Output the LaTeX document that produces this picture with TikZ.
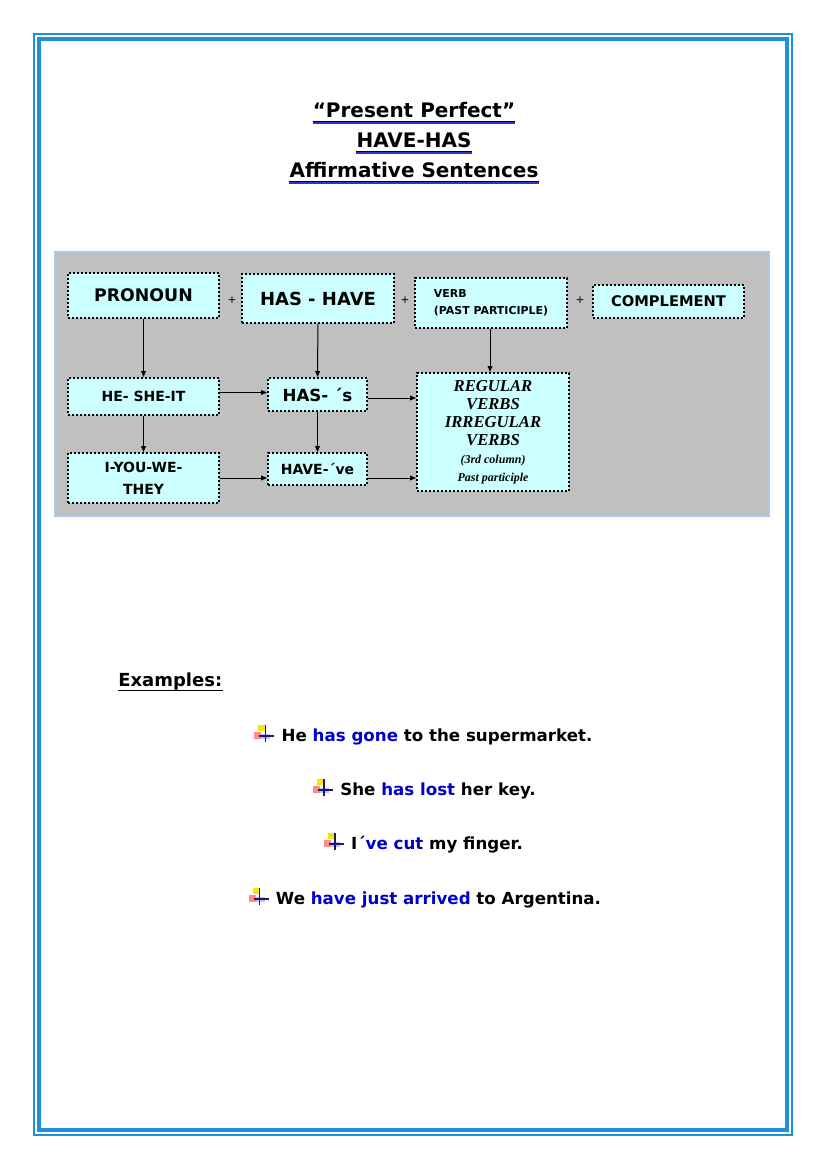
\documentclass[tikz,border=0pt]{standalone}
\usepackage{fontspec}
\setmainfont{DejaVu Sans}
\newfontfamily\curlyfont{Liberation Serif}
\usetikzlibrary{arrows.meta,positioning}
\definecolor{ink}{HTML}{000000}
\definecolor{frame}{HTML}{1E8FE0}
\definecolor{panel}{HTML}{C0C0C0}
\definecolor{panelline}{HTML}{A6CAF0}
\definecolor{cellfill}{HTML}{CCFFFF}
\definecolor{verbblue}{HTML}{0000CC}
\definecolor{shade}{HTML}{3333CC}
\definecolor{navy}{HTML}{1A1A66}
\newlength{\unitpx}\setlength{\unitpx}{0.75pt}
\newcommand{\sized}[2]{\fontsize{#1}{#2}\selectfont}
\newcommand{\vb}[1]{\textcolor{verbblue}{#1}}
\tikzset{
  >={Triangle[length=4.5pt,width=3.6pt]},
  every node/.style={text=ink},
  cell/.style={draw=ink,fill=cellfill,line width=1.5pt,dash pattern=on 1.5pt off 1.5pt,align=center,inner sep=0pt,font=\bfseries},
  bigcell/.style={cell,font=\bfseries\sized{13.5}{16}},
  smallcell/.style={cell,font=\bfseries\sized{10.5}{16.5}},
  plus/.style={font=\sized{8}{10},inner sep=0pt},
  arrow/.style={->,line width=0.75pt,draw=ink},
  heading/.style={font=\bfseries\sized{15}{18},anchor=base,inner sep=0pt},
  sentence/.style={font=\bfseries\sized{12.5}{15},anchor=base,inner sep=0pt},
  ruleblack/.style={draw=ink,line width=1.1pt},
  ruleblue/.style={draw=shade,line width=1.5pt},
  marker/.pic={
    \fill[yellow!85!orange] (-7,-9) rectangle (0,-3);
    \fill[red!45] (-11,-2) rectangle (-4,5);
    \fill[blue!25] (-4,0) rectangle (5,5);
    \draw[navy,line width=1.2pt] (0,-9) -- (0,8) (-6,2) -- (9,2);
  },
}

\begin{document}
\begin{tikzpicture}[x=\unitpx,y=-\unitpx]
\useasboundingbox (0,0) rectangle (821,1169);
\fill[white] (0,0) rectangle (821,1169);

% page frame
\draw[frame,line width=2.5\unitpx] (34,34) rectangle (792,1135);
\draw[frame,line width=3.5\unitpx] (39,39) rectangle (787,1130);

% title
\node[heading] (title1) at (414,118) {“Present Perfect”};
\node[heading] (title2) at (414,148) {HAVE-HAS};
\node[heading] (title3) at (414,178) {Affirmative Sentences};
\foreach \t in {title1,title2,title3}{
  \draw[ruleblue] ([yshift=-5.5\unitpx]\t.base west) -- ([yshift=-5.5\unitpx]\t.base east);
  \draw[ruleblack] ([yshift=-3.5\unitpx]\t.base west) -- ([yshift=-3.5\unitpx]\t.base east);
}

% grey panel
\draw[panelline,fill=panel,line width=2\unitpx] (55,252) rectangle (769,516);

% top row
\node[bigcell,font=\bfseries\sized{13}{16},minimum width=151\unitpx,minimum height=45\unitpx] (pron) at (143.5,295.5) {PRONOUN};
\node[bigcell,minimum width=152\unitpx,minimum height=49\unitpx] (hashave) at (318,298.5) {HAS - HAVE};
\node[cell,font=\bfseries\sized{8.2}{12.75},align=left,minimum width=152\unitpx,minimum height=50\unitpx] (verb) at (491,303) {VERB\\(PAST PARTICIPLE)};
\node[cell,font=\bfseries\sized{11}{14},minimum width=151\unitpx,minimum height=33\unitpx] (comp) at (668.5,301.5) {COMPLEMENT};
\node[plus] (plus1) at (232,300) {+};
\node[plus] (plus2) at (405,300) {+};
\node[plus] (plus3) at (580,300) {+};

% lower rows
\node[smallcell,minimum width=151\unitpx,minimum height=37\unitpx] (he) at (143.5,396.5) {HE- SHE-IT};
\node[smallcell,minimum width=151\unitpx,minimum height=50\unitpx] (iyou) at (143.5,478) {I-YOU-WE-\\THEY};
\node[cell,font=\bfseries\sized{12.5}{15},minimum width=99\unitpx,minimum height=33\unitpx] (has) at (317.5,394.5) {HAS- ´s};
\node[smallcell,minimum width=99\unitpx,minimum height=32\unitpx] (have) at (317.5,469) {HAVE-´ve};
\node[cell,font=\curlyfont\bfseries\itshape\sized{12.5}{13.5},minimum width=152\unitpx,minimum height=118\unitpx] (reg) at (493,432)
{REGULAR\\VERBS\\IRREGULAR\\VERBS\\{\sized{9}{14}(3rd column)}\\{\sized{9}{14}Past participle}};

% connectors
\draw[arrow] (pron) -- (he);
\draw[arrow] (hashave) -- (has);
\draw[arrow] ([xshift=-1\unitpx]verb.south) -- ([xshift=-1\unitpx]verb.south |- reg.north);
\draw[arrow] (he) -- (iyou);
\draw[arrow] (has) -- (have);
\draw[arrow] ([yshift=4\unitpx]he.east) -- ([yshift=4\unitpx]he.east -| has.west);
\draw[arrow] (iyou.east) -- (iyou.east -| have.west);
\draw[arrow] ([yshift=-3.5\unitpx]has.east) -- ([yshift=-3.5\unitpx]has.east -| reg.west);
\draw[arrow] ([yshift=-9\unitpx]have.east) -- ([yshift=-9\unitpx]have.east -| reg.west);

% examples
\node[font=\bfseries\sized{13.5}{16},anchor=base west,inner sep=0pt] (exhead) at (118,686) {Examples:};
\draw[draw=ink,line width=1.3pt] ([yshift=-4.5\unitpx]exhead.base west) -- ([yshift=-4.5\unitpx]exhead.base east);
\node[sentence] (ex1) at (437,741) {He \vb{has gone} to the supermarket.};
\node[sentence] (ex2) at (438,795) {She \vb{has lost} her key.};
\node[sentence] (ex3) at (437,849) {I´\vb{ve cut} my finger.};
\node[sentence] (ex4) at (438.5,904) {We \vb{have just arrived} to Argentina.};
\foreach \s in {ex1,ex2,ex3,ex4}{
  \pic at ([xshift=-16\unitpx,yshift=7\unitpx]\s.base west) {marker};
}

\end{tikzpicture}
\end{document}
